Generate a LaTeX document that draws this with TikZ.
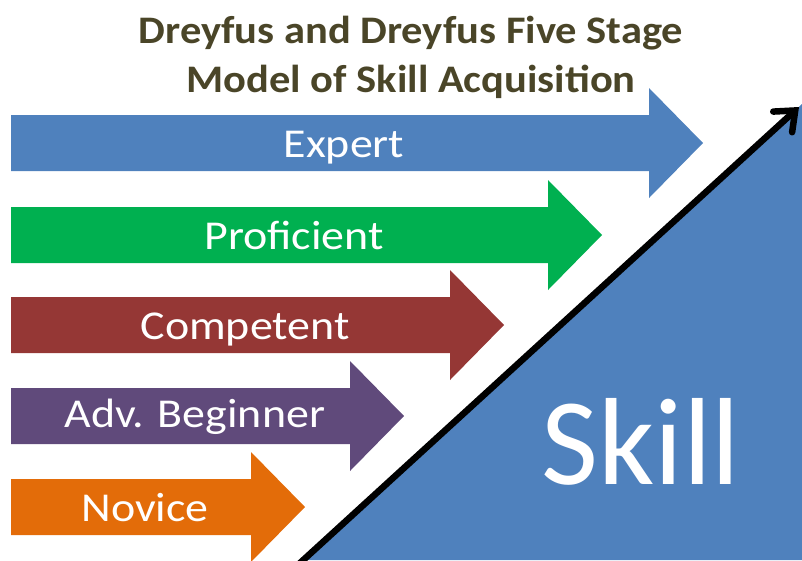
\documentclass[tikz,border=0pt]{standalone}
\usepackage{fontspec}
\setmainfont{Carlito}
\usetikzlibrary{arrows.meta}
\definecolor{cblue}{RGB}{79,129,189}
\definecolor{cgreen}{RGB}{0,176,80}
\definecolor{cred}{RGB}{149,55,53}
\definecolor{cpurple}{RGB}{96,74,123}
\definecolor{corange}{RGB}{227,108,9}
\definecolor{ctitle}{RGB}{74,69,40}
\begin{document}
\begin{tikzpicture}[x=1pt,y=-1pt,
  stagelabel/.style={text=white,font=\fontsize{41}{48}\selectfont,inner sep=0pt,anchor=base,xscale=1.12},
  titletext/.style={text=ctitle,font=\bfseries\fontsize{39}{46}\selectfont,inner sep=0pt,anchor=base,xscale=1.09}]
\useasboundingbox (0,0) rectangle (802,560);
% skill triangle
\coordinate (lineStart) at (300,563);
\coordinate (lineEnd) at (799,107);
\fill[cblue] (304,560) -- (802,104) -- (802,560) -- cycle;
% stage arrows: color / tip x / center y
\foreach \col/\tx/\yc in {cblue/703/143, cgreen/602/235, cred/504/325, cpurple/404/416, corange/305/507}{
  \fill[\col] (11,\yc-28) -- (\tx-54,\yc-28) -- (\tx-54,\yc-55) -- (\tx,\yc)
     -- (\tx-54,\yc+55) -- (\tx-54,\yc+28) -- (11,\yc+28) -- cycle;
}
\draw[line width=6.5pt, line cap=round,
  -{Straight Barb[length=17pt,width=28pt,line cap=round]}] (lineStart) -- (lineEnd);
\node[stagelabel] (expert) at (344,157) {Expert};
\node[stagelabel] (proficient) at (294,249) {Proficient};
\node[stagelabel] (competent) at (245,339) {Competent};
\node[stagelabel] (advbeg) at (195,427) {Adv. Beginner};
\node[stagelabel] (novice) at (145,521) {Novice};
\node[text=white,font=\fontsize{124}{140}\selectfont,inner sep=0pt,anchor=base] (skill) at (641,484) {Skill};
\node[titletext] (title1) at (411,43) {Dreyfus and Dreyfus Five Stage};
\node[titletext] (title2) at (411,92) {Model of Skill Acquisition};
\end{tikzpicture}
\end{document}
